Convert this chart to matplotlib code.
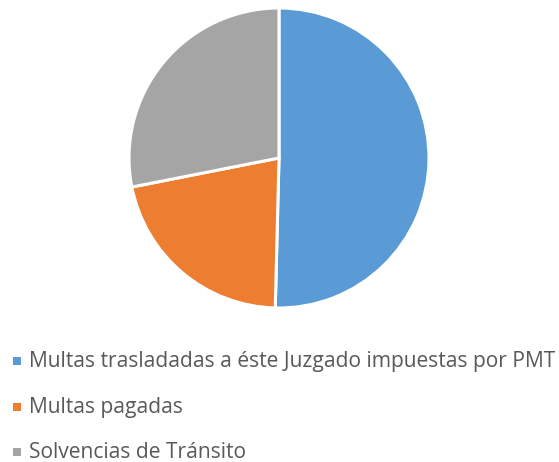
import matplotlib
matplotlib.use("Agg")
import matplotlib.pyplot as plt
from matplotlib.patches import Rectangle

categories = ["Multas trasladadas a éste Juzgado impuestas por PMT",
              "Multas pagadas",
              "Solvencias de Tránsito"]
values = [50.4, 21.5, 28.1]
colors = ["#5B9BD5", "#ED7D31", "#A5A5A5"]

W, H = 559, 462
fig = plt.figure(figsize=(W / 100, H / 100), dpi=100)
fig.patch.set_facecolor("white")

cx, cy, r = 279, 158, 150
ax = fig.add_axes([(cx - r) / W, (H - cy - r) / H, 2 * r / W, 2 * r / H])
ax.pie(values, colors=colors, startangle=90, counterclock=False,
       wedgeprops=dict(edgecolor="white", linewidth=2.2, joinstyle="miter"))
ax.set_xlim(-1, 1)
ax.set_ylim(-1, 1)
ax.set_aspect("equal")
ax.axis("off")

baselines = [367, 413, 458]
for lab, col, yb in zip(categories, colors, baselines):
    ym = yb - 6
    fig.patches.append(Rectangle((13 / W, (H - ym - 4) / H), 8 / W, 8 / H,
                                 transform=fig.transFigure, facecolor=col,
                                 edgecolor="none"))
    fig.text(29 / W, (H - yb) / H, lab, fontsize=15.1, color="#595959",
             family="Open Sans", va="baseline", ha="left")

fig.savefig("out.png", dpi=100)
